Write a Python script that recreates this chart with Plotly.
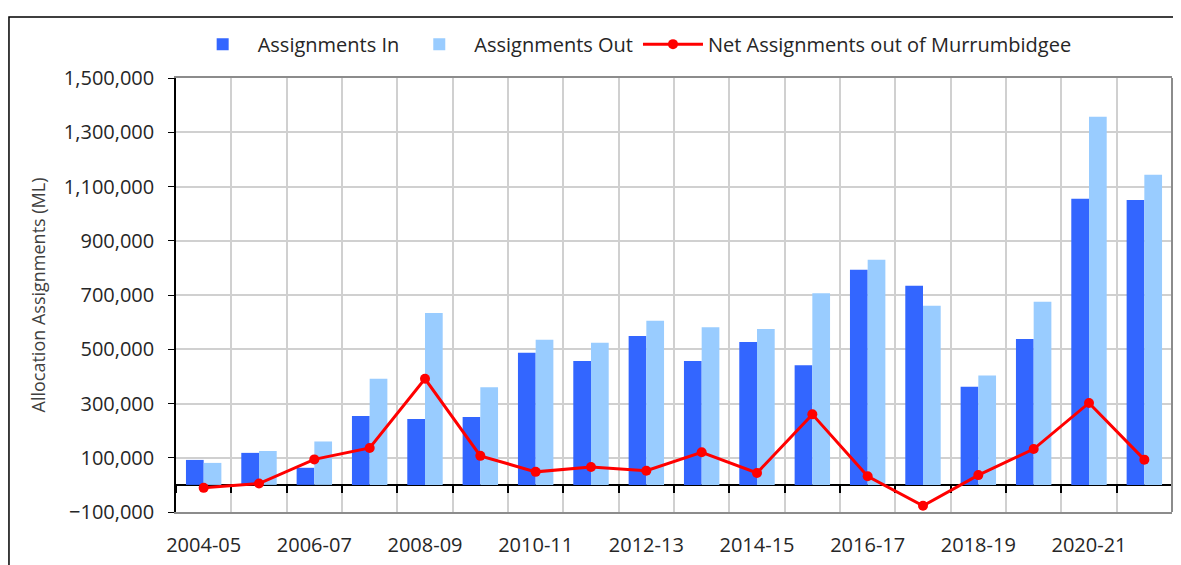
import plotly.graph_objects as go

categories = ["2004-05", "2005-06", "2006-07", "2007-08", "2008-09", "2009-10",
              "2010-11", "2011-12", "2012-13", "2013-14", "2014-15", "2015-16",
              "2016-17", "2017-18", "2018-19", "2019-20", "2020-21", "2021-22"]
assign_in = [92000, 118000, 63000, 254000, 243000, 250000, 487000, 457000, 549000,
             457000, 527000, 441000, 793000, 734000, 362000, 538000, 1055000, 1050000]
assign_out = [81000, 125000, 160000, 391000, 634000, 360000, 535000, 524000, 605000,
              581000, 575000, 706000, 830000, 660000, 403000, 675000, 1357000, 1143000]
net_out = [-11000, 5000, 94000, 136000, 391000, 107000, 48000, 66000, 52000,
           120000, 44000, 260000, 32000, -77000, 36000, 132000, 302000, 93000]

FONT = "Open Sans"
TXT = "#262626"
x = list(range(len(categories)))
label_pos = [i for i in x if i % 2 == 0]
label_txt = [categories[i] for i in x if i % 2 == 0]
bounds = [i - 0.5 for i in range(len(categories) + 1)]

fig = go.Figure()
fig.add_trace(go.Bar(x=x, y=assign_in, name="Assignments In",
                     marker=dict(color="#3366FF", line=dict(width=0))))
fig.add_trace(go.Bar(x=x, y=assign_out, name="Assignments Out",
                     marker=dict(color="#99CCFF", line=dict(width=0))))
fig.add_trace(go.Scatter(x=x, y=net_out, name="Net Assignments out of Murrumbidgee",
                         mode="lines+markers",
                         line=dict(color="#FF0000", width=3),
                         marker=dict(color="#FF0000", size=10)))
# helper axis trace for gridlines at category boundaries
fig.add_trace(go.Scatter(x=[bounds[0], bounds[-1]], y=[0, 0], xaxis="x2",
                         mode="lines", line=dict(width=0), showlegend=False,
                         hoverinfo="skip"))

ymin, ymax = -100000, 1500000
zero_frac = (0 - ymin) / (ymax - ymin)

fig.update_layout(
    width=1181, height=565,
    margin=dict(l=168, r=17, t=70, b=61),
    paper_bgcolor="white", plot_bgcolor="white",
    barmode="group", bargap=0.36, bargroupgap=0,
    font=dict(family=FONT, size=20, color=TXT),
    legend=dict(orientation="h", x=0.458, xanchor="center", y=1.078, yanchor="middle",
                font=dict(family=FONT, size=20, color=TXT), itemwidth=60,
                traceorder="normal", bgcolor="rgba(0,0,0,0)"),
    xaxis=dict(range=[bounds[0], bounds[-1]], tickmode="array", tickvals=label_pos,
               ticktext=label_txt, showgrid=False, zeroline=False,
               showline=True, linecolor="#8c8c8c", linewidth=2, mirror=True,
               ticks="", ticklabelstandoff=14,
               tickfont=dict(family=FONT, size=20, color=TXT)),
    xaxis2=dict(range=[bounds[0], bounds[-1]], overlaying="x", anchor="free",
                position=zero_frac, tickmode="array", tickvals=bounds,
                showticklabels=False, showgrid=True, gridcolor="#d0d0d0", gridwidth=2,
                showline=True, linecolor="black", linewidth=1.5,
                ticks="outside", ticklen=7, tickcolor="black", tickwidth=1.5,
                zeroline=False, layer="below traces"),
    yaxis=dict(range=[ymin, ymax], tick0=-100000, dtick=200000, tickformat=",",
               showgrid=True, gridcolor="#d0d0d0", gridwidth=2, zeroline=False,
               showline=True, linecolor="black", linewidth=1.5,
               ticks="outside", ticklen=6, tickcolor="black", ticklabelstandoff=10,
               tickfont=dict(family=FONT, size=20, color=TXT),
               title=dict(text="Allocation Assignments (ML)", standoff=14,
                          font=dict(family=FONT, size=18, color="#404040"))),
    shapes=[dict(type="rect", xref="paper", yref="paper",
                 x0=-0.1677, x1=1.05, y0=-0.15, y1=1.1406,
                 line=dict(color="black", width=1.5), fillcolor="rgba(0,0,0,0)",
                 layer="below"),
            dict(type="line", xref="paper", yref="paper", x0=1, x1=1, y0=0, y1=1,
                 line=dict(color="#8c8c8c", width=2))],
)

fig.write_html("out.html")
